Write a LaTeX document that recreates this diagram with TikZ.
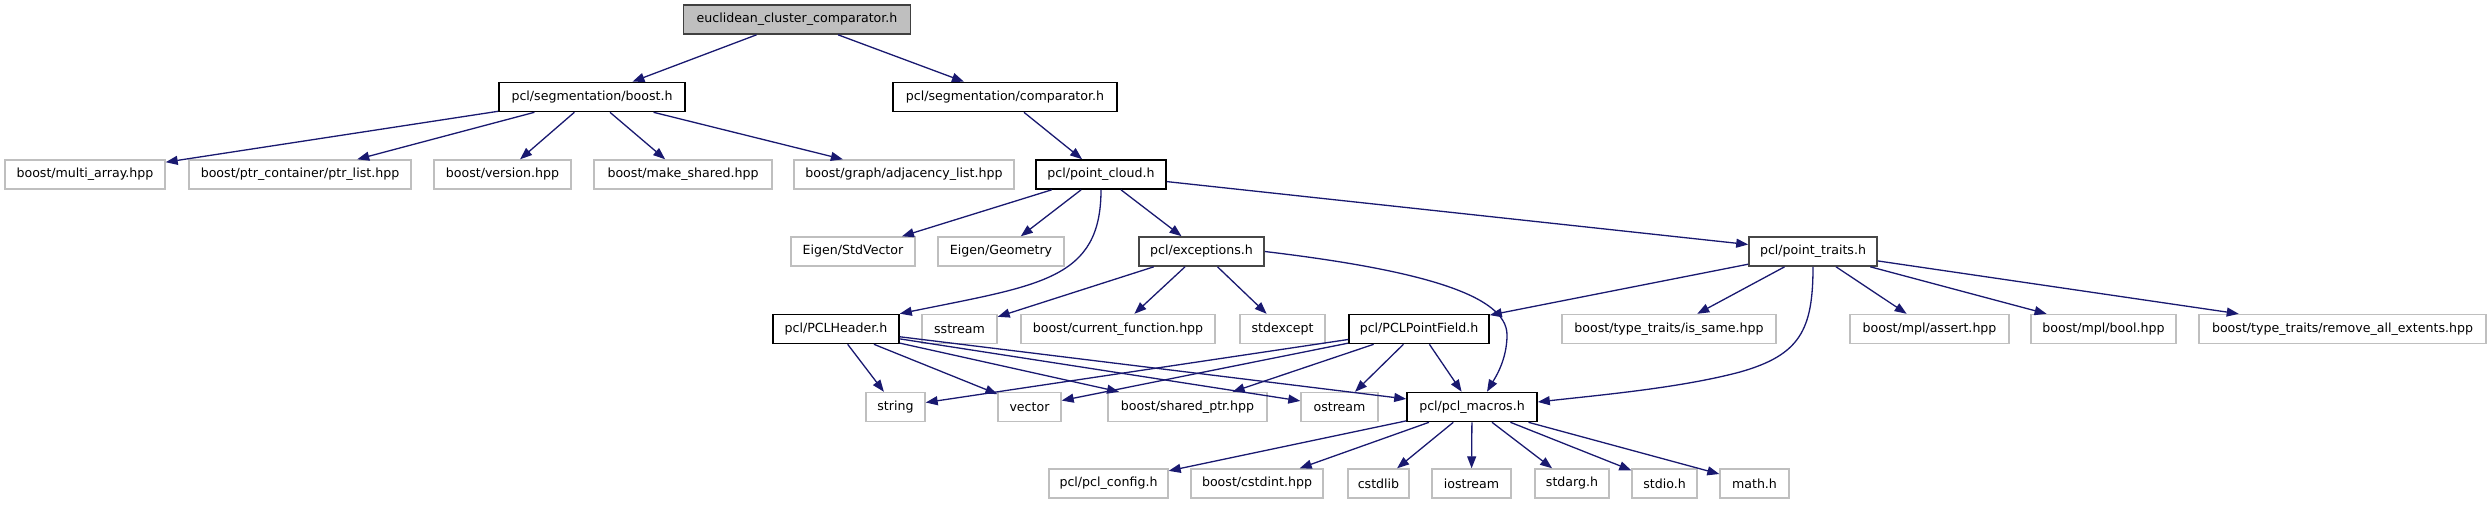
\documentclass[tikz,border=0pt]{standalone}
\usepackage{fontspec}
\setmainfont{DejaVu Sans}
\usetikzlibrary{arrows.meta,calc}
\definecolor{edgeblue}{HTML}{191970}
\definecolor{extgray}{HTML}{BFBFBF}

\begin{document}
\begin{tikzpicture}[x=1pt, y=-1pt,
    every node/.style={rectangle, inner sep=0pt, minimum height=29pt,
      font=\fontsize{12.6pt}{15pt}\selectfont},
    rootfile/.style={draw=black!75, line width=1.6pt, fill=extgray},
    docfile/.style={draw=black, line width=1.6pt, fill=white},
    greyfile/.style={draw=black!72, line width=1.6pt, fill=white},
    extfile/.style={draw=extgray, line width=1.4pt, fill=white},
    incl/.style={draw=edgeblue, line width=1.3pt, -{Triangle[length=12pt,width=9pt]}}]
    \path[use as bounding box] (0,0) rectangle (2491,504);

    % row 1 and 2
    \node[rootfile, minimum width=227pt] (root) at (797,19.5) {euclidean\_cluster\_comparator.h};
    \node[docfile, minimum width=186pt] (segboost) at (592,97) {pcl/segmentation/boost.h};
    \node[docfile, minimum width=224pt] (segcomp) at (1005,97) {pcl/segmentation/comparator.h};

    % row 3
    \node[extfile, minimum width=160pt] (multiarray) at (85,174.5) {boost/multi\_array.hpp};
    \node[extfile, minimum width=222pt] (ptrlist) at (300,174.5) {boost/ptr\_container/ptr\_list.hpp};
    \node[extfile, minimum width=137pt] (version) at (502.5,174.5) {boost/version.hpp};
    \node[extfile, minimum width=178pt] (makeshared) at (683,174.5) {boost/make\_shared.hpp};
    \node[extfile, minimum width=220pt] (adjlist) at (904,174.5) {boost/graph/adjacency\_list.hpp};
    \node[docfile, minimum width=130pt] (pcloud) at (1101,174.5) {pcl/point\_cloud.h};

    % row 4
    \node[extfile, minimum width=124pt] (stdvector) at (853,251.5) {Eigen/StdVector};
    \node[extfile, minimum width=126pt] (geometry) at (1001,251.5) {Eigen/Geometry};
    \node[greyfile, minimum width=125pt] (exceptions) at (1201.5,251.5) {pcl/exceptions.h};
    \node[greyfile, minimum width=128pt] (ptraits) at (1813,251.5) {pcl/point\_traits.h};

    % row 5
    \node[docfile, minimum width=126pt] (pheader) at (836,329) {pcl/PCLHeader.h};
    \node[extfile, minimum width=75pt] (sstream) at (959.5,329) {sstream};
    \node[extfile, minimum width=194pt] (curfunc) at (1118,329) {boost/current\_function.hpp};
    \node[extfile, minimum width=85pt] (stdexcept) at (1282.5,329) {stdexcept};
    \node[docfile, minimum width=140pt] (pfield) at (1419,329) {pcl/PCLPointField.h};
    \node[extfile, minimum width=214pt] (issame) at (1669,329) {boost/type\_traits/is\_same.hpp};
    \node[extfile, minimum width=159pt] (mplassert) at (1929.5,329) {boost/mpl/assert.hpp};
    \node[extfile, minimum width=145pt] (mplbool) at (2103.5,329) {boost/mpl/bool.hpp};
    \node[extfile, minimum width=287pt] (removeall) at (2342.5,329) {boost/type\_traits/remove\_all\_extents.hpp};

    % row 6
    \node[extfile, minimum width=59pt] (string) at (895.5,407) {string};
    \node[extfile, minimum width=63pt] (vector) at (1029.5,407) {vector};
    \node[extfile, minimum width=159pt] (sharedptr) at (1187.5,407) {boost/shared\_ptr.hpp};
    \node[extfile, minimum width=77pt] (ostream) at (1339.5,407) {ostream};
    \node[docfile, minimum width=130pt] (macros) at (1472,407) {pcl/pcl\_macros.h};

    % row 7
    \node[extfile, minimum width=119pt] (config) at (1108.5,483.5) {pcl/pcl\_config.h};
    \node[extfile, minimum width=132pt] (cstdint) at (1257,483.5) {boost/cstdint.hpp};
    \node[extfile, minimum width=61pt] (cstdlib) at (1378.5,483.5) {cstdlib};
    \node[extfile, minimum width=79pt] (iostream) at (1471.5,483.5) {iostream};
    \node[extfile, minimum width=74pt] (stdarg) at (1572,483.5) {stdarg.h};
    \node[extfile, minimum width=65pt] (stdio) at (1664.5,483.5) {stdio.h};
    \node[extfile, minimum width=69pt] (math) at (1754.5,483.5) {math.h};

    % includes of the root file
    \draw[incl] (root) -- (segboost);
    \draw[incl] (root) -- (segcomp);

    % pcl/segmentation/boost.h
    \draw[incl] (segboost) -- (multiarray);
    \draw[incl] (segboost) -- (ptrlist);
    \draw[incl] (segboost) -- (version);
    \draw[incl] (segboost) -- (makeshared);
    \draw[incl] (segboost) -- (adjlist);
    \draw[incl] (segcomp) -- (pcloud);

    % pcl/point_cloud.h
    \draw[incl] (pcloud) -- (stdvector);
    \draw[incl] (pcloud) -- (geometry);
    \draw[incl] (pcloud) -- (exceptions);
    \draw[incl] (pcloud) -- (ptraits);
    \draw[incl] (pcloud.south) .. controls (1101,280) and (1040,285) .. (pheader.north east);

    % pcl/exceptions.h
    \draw[incl] (exceptions) -- (sstream);
    \draw[incl] (exceptions) -- (curfunc);
    \draw[incl] (exceptions) -- (stdexcept);
    \draw[incl] (exceptions.east) .. controls (1420,270) and (1507,295) .. (1507,335)
      .. controls (1507,360) and (1495,378) .. ($(macros.north)+(15,0)$);

    % pcl/point_traits.h
    \draw[incl] (ptraits) -- (pfield);
    \draw[incl] (ptraits) -- (issame);
    \draw[incl] (ptraits) -- (mplassert);
    \draw[incl] (ptraits) -- (mplbool);
    \draw[incl] (ptraits) -- (removeall);
    \draw[incl] (ptraits.south) .. controls (1813,330) and (1800,355) .. (1740,372)
      .. controls (1680,388) and (1600,395) .. ($(macros.east)+(0,-5)$);

    % pcl/PCLHeader.h
    \draw[incl] (pheader) -- (string);
    \draw[incl] (pheader) -- (vector);
    \draw[incl] (pheader) -- (sharedptr);
    \draw[incl] (pheader) -- (ostream);
    \draw[incl] (pheader) -- (macros);

    % pcl/PCLPointField.h
    \draw[incl] (pfield) -- (string);
    \draw[incl] (pfield) -- (vector);
    \draw[incl] (pfield) -- (sharedptr);
    \draw[incl] (pfield) -- (ostream);
    \draw[incl] (pfield) -- (macros);

    % pcl/pcl_macros.h
    \draw[incl] (macros) -- (config);
    \draw[incl] (macros) -- (cstdint);
    \draw[incl] (macros) -- (cstdlib);
    \draw[incl] (macros) -- (iostream);
    \draw[incl] (macros) -- (stdarg);
    \draw[incl] (macros) -- (stdio);
    \draw[incl] (macros) -- (math);
\end{tikzpicture}
\end{document}
